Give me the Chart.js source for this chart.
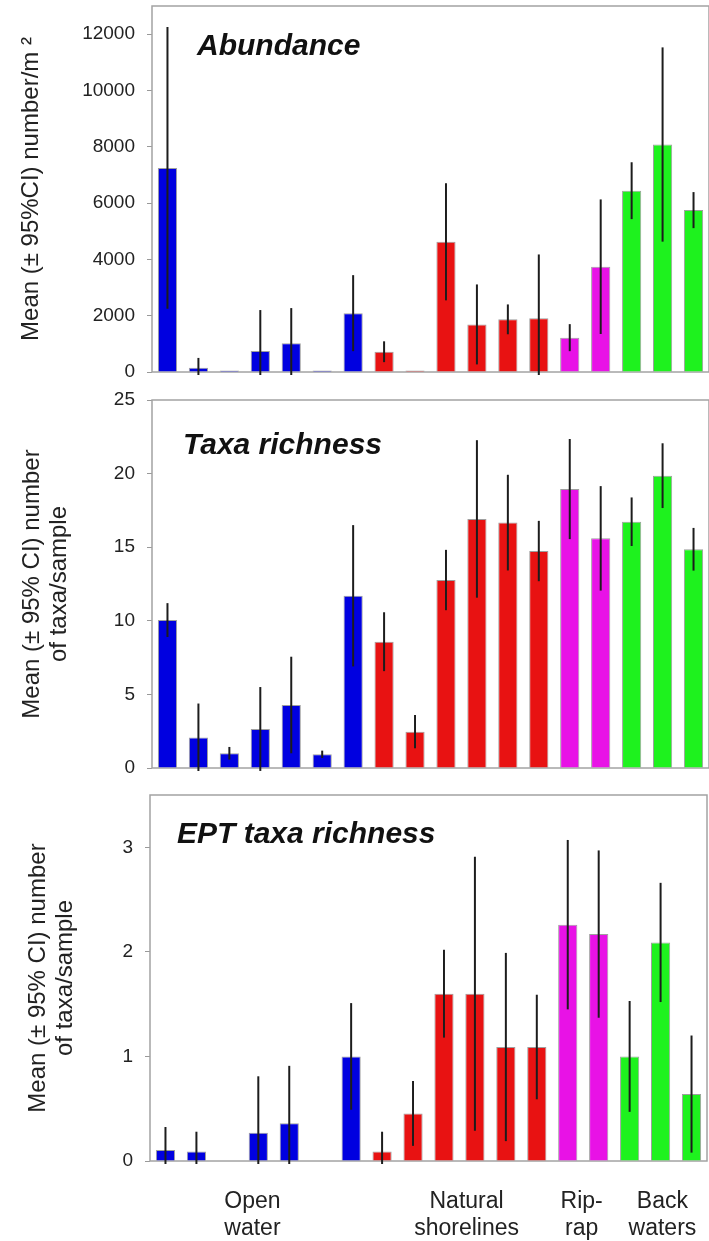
<!DOCTYPE html>
<html>
<head>
<meta charset="utf-8">
<script src="https://cdn.jsdelivr.net/npm/chart.js@4.4.0/dist/chart.umd.min.js"></script>
<style>
  body { margin: 0; background: #fff; width: 709px; height: 1241px; position: relative; overflow: hidden; }
  canvas { position: absolute; left: 0; }
</style>
</head>
<body>
<canvas id="chart-abundance" width="709" height="380" style="top:0"></canvas>
<canvas id="chart-taxa" width="709" height="395" style="top:385px"></canvas>
<canvas id="chart-ept" width="709" height="456" style="top:785px"></canvas>
<script>
/* Invertebrate metrics by habitat: mean +/- 95% CI */

const sites = [
  'OW1', 'OW2', 'OW3', 'OW4', 'OW5', 'OW6', 'OW7',
  'NS1', 'NS2', 'NS3', 'NS4', 'NS5', 'NS6',
  'RR1', 'RR2',
  'BW1', 'BW2', 'BW3'
];
const habitat = [
  'open', 'open', 'open', 'open', 'open', 'open', 'open',
  'natural', 'natural', 'natural', 'natural', 'natural', 'natural',
  'riprap', 'riprap',
  'back', 'back', 'back'
];

const abundanceMean = [7250, 150, 50, 750, 1020, 50, 2090, 720, 50, 4625, 1690, 1870, 1905, 1220, 3740, 6440, 8080, 5750];
const abundanceCI   = [5000, 350, 0, 1450, 1250, 0, 1350, 370, 0, 2080, 1420, 530, 2270, 480, 2390, 1010, 3450, 640];
const abundanceTicks = [0, 2000, 4000, 6000, 8000, 10000, 12000];

const taxaMean = [10.05, 2.08, 1.0, 2.65, 4.28, 0.93, 11.7, 8.58, 2.47, 12.77, 16.92, 16.67, 14.74, 18.95, 15.6, 16.73, 19.86, 14.86];
const taxaCI   = [1.15, 2.3, 0.43, 2.85, 3.28, 0.25, 4.8, 2.0, 1.13, 2.05, 5.35, 3.25, 2.05, 3.4, 3.55, 1.65, 2.2, 1.45];
const taxaTicks = [0, 5, 10, 15, 20, 25];

const eptMean = [0.105, 0.09, 0, 0.27, 0.36, 0, 1.0, 0.09, 0.455, 1.6, 1.6, 1.09, 1.09, 2.26, 2.17, 1.0, 2.09, 0.64];
const eptCI   = [0.22, 0.19, 0, 0.54, 0.55, 0, 0.51, 0.19, 0.31, 0.42, 1.31, 0.9, 0.5, 0.81, 0.8, 0.53, 0.57, 0.56];
const eptTicks = [0, 1, 2, 3];

const groupLabels = [
  { text: ['Open', 'water'], at: 2.81 },
  { text: ['Natural', 'shorelines'], at: 9.73 },
  { text: ['Rip-', 'rap'], at: 13.45 },
  { text: ['Back', 'waters'], at: 16.06 }
];

const habitatColors = {
  open: '#0000e0',
  natural: '#e81212',
  riprap: '#e812e6',
  back: '#1ef21e'
};

const FONT = '"Liberation Sans", Arial, sans-serif';

// frame around the plot area
const framePlugin = {
  id: 'frame',
  beforeDatasetsDraw(chart) {
    const { ctx, chartArea: a } = chart;
    ctx.save();
    ctx.strokeStyle = '#a3a3a3';
    ctx.lineWidth = 1.5;
    ctx.strokeRect(a.left, a.top, a.right - a.left, a.bottom - a.top);
    ctx.restore();
  }
};

// vertical CI lines through each bar
const errorBarPlugin = {
  id: 'errorBars',
  afterDatasetsDraw(chart) {
    const { ctx, chartArea: a } = chart;
    const ds = chart.data.datasets[0];
    const y = chart.scales.y;
    ctx.save();
    ctx.beginPath();
    ctx.rect(a.left, a.top, a.right - a.left, a.bottom - a.top + 3);
    ctx.clip();
    ctx.strokeStyle = '#1c1c1c';
    ctx.lineWidth = 2;
    chart.getDatasetMeta(0).data.forEach((bar, i) => {
      const ci = ds.ci[i];
      if (!ci) return;
      ctx.beginPath();
      ctx.moveTo(bar.x, y.getPixelForValue(ds.data[i] + ci));
      ctx.lineTo(bar.x, y.getPixelForValue(ds.data[i] - ci));
      ctx.stroke();
    });
    ctx.restore();
  }
};

function noPad(s) {
  s.paddingTop = 0;
  s.paddingBottom = 0;
  s.paddingLeft = 0;
  s.paddingRight = 0;
}

function makePanel(id, p) {
  const textPlugin = {
    id: 'panelText',
    afterDraw(chart) {
      const { ctx, chartArea: a } = chart;
      ctx.save();
      ctx.fillStyle = '#111';
      ctx.textBaseline = 'alphabetic';
      ctx.font = 'italic bold 30px ' + FONT;
      ctx.textAlign = 'left';
      ctx.fillText(p.title, a.left + p.titleDx, a.top + p.titleDy);
      if (p.groups) {
        ctx.font = '23px ' + FONT;
        ctx.fillStyle = '#222';
        ctx.textAlign = 'center';
        p.groups.forEach(g => {
          const x = chart.scales.x.getPixelForValue(g.at);
          g.text.forEach((line, k) => ctx.fillText(line, x, a.bottom + 47 + k * 27));
        });
      }
      ctx.restore();
    }
  };

  return new Chart(document.getElementById(id), {
    type: 'bar',
    data: {
      labels: sites,
      datasets: [{
        data: p.mean,
        ci: p.ci,
        backgroundColor: habitat.map(h => habitatColors[h]),
        borderColor: 'rgba(80, 80, 80, 0.55)',
        borderWidth: 1,
        barPercentage: 0.62,
        categoryPercentage: 1
      }]
    },
    options: {
      responsive: false,
      animation: false,
      events: [],
      layout: { padding: { top: p.padTop, right: p.padRight, left: 0, bottom: 0 } },
      plugins: { legend: { display: false }, tooltip: { enabled: false } },
      scales: {
        x: {
          ticks: { display: false },
          grid: { display: false },
          border: { display: false },
          afterFit: s => { s.height = p.xHeight; noPad(s); }
        },
        y: {
          min: 0,
          max: p.max,
          afterFit: s => { s.width = p.yWidth; noPad(s); },
          afterBuildTicks: s => { s.ticks = p.ticks.map(v => ({ value: v })); },
          ticks: {
            padding: 12,
            color: '#222',
            font: { family: FONT, size: 19 },
            callback: v => String(v)
          },
          grid: {
            drawOnChartArea: false,
            drawTicks: true,
            tickLength: 5,
            color: '#999'
          },
          border: { display: false },
          title: {
            display: true,
            text: p.yTitle,
            color: '#222',
            font: { family: FONT, size: 24, lineHeight: 1.125 },
            padding: { top: p.titlePad, bottom: 0 }
          }
        }
      }
    },
    plugins: [framePlugin, errorBarPlugin, textPlugin]
  });
}

makePanel('chart-abundance', {
  mean: abundanceMean, ci: abundanceCI, max: 13000, ticks: abundanceTicks,
  yTitle: 'Mean (± 95%CI) number/m ²',
  title: 'Abundance', titleDx: 45, titleDy: 49,
  padTop: 6, padRight: 0, xHeight: 8, yWidth: 152, titlePad: 18
});

makePanel('chart-taxa', {
  mean: taxaMean, ci: taxaCI, max: 25, ticks: taxaTicks,
  yTitle: ['Mean (± 95% CI) number', 'of taxa/sample'],
  title: 'Taxa richness', titleDx: 31, titleDy: 54,
  padTop: 15, padRight: 0, xHeight: 12, yWidth: 152, titlePad: 19
});

makePanel('chart-ept', {
  mean: eptMean, ci: eptCI, max: 3.5, ticks: eptTicks,
  yTitle: ['Mean (± 95% CI) number', 'of taxa/sample'],
  title: 'EPT taxa richness', titleDx: 27, titleDy: 48,
  padTop: 10, padRight: 2, xHeight: 80, yWidth: 150, titlePad: 25,
  groups: groupLabels
});
</script>
</body>
</html>
